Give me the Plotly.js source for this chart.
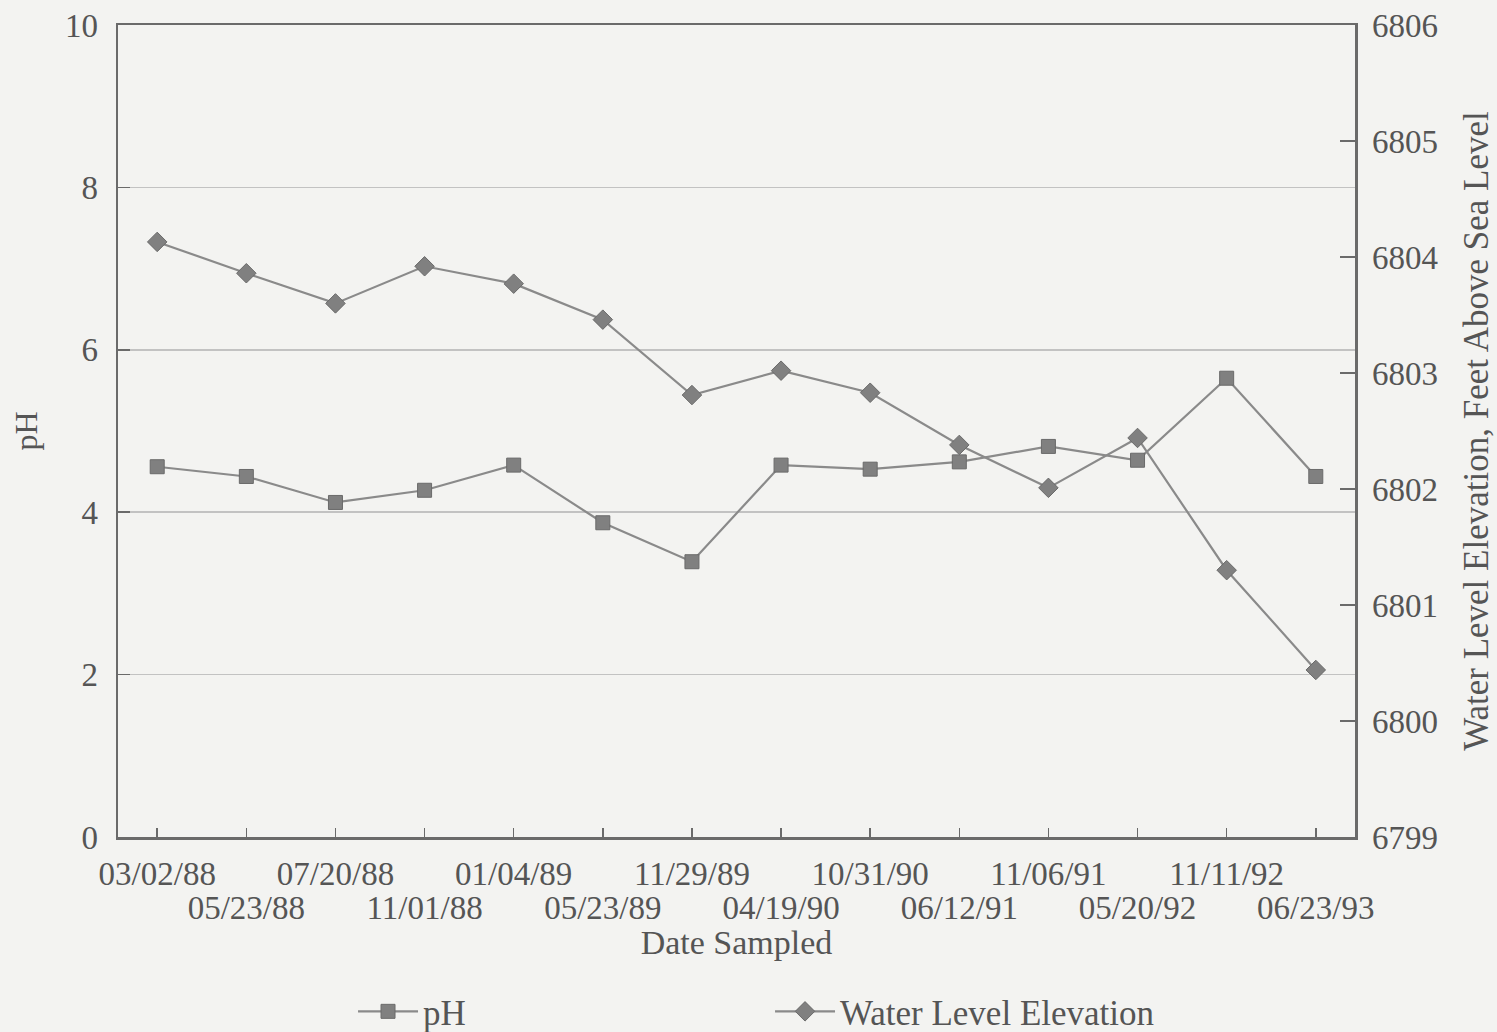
<!DOCTYPE html>
<html>
<head>
<meta charset="utf-8">
<script src="https://cdn.plot.ly/plotly-3.0.1.min.js"></script>
<style>
  html, body { margin: 0; padding: 0; background: #f3f3f1; }
  #chart { width: 1497px; height: 1032px; }
</style>
</head>
<body>
<div id="chart"></div>
<script>
// Sampling dates (categories)
const dates = ["03/02/88", "05/23/88", "07/20/88", "11/01/88", "01/04/89", "05/23/89", "11/29/89",
               "04/19/90", "10/31/90", "06/12/91", "11/06/91", "05/20/92", "11/11/92", "06/23/93"];
// pH values (left axis)
const phValues = [4.56, 4.44, 4.12, 4.27, 4.58, 3.87, 3.39, 4.58, 4.53, 4.62, 4.81, 4.64, 5.65, 4.44];
// Water level elevation, feet above sea level (right axis)
const waterLevel = [6804.13, 6803.86, 6803.60, 6803.92, 6803.77, 6803.46, 6802.81,
                    6803.02, 6802.83, 6802.38, 6802.01, 6802.44, 6801.30, 6800.44];
// Axis ticks
const phTicks = [0, 2, 4, 6, 8, 10];
const elevTicks = [6799, 6800, 6801, 6802, 6803, 6804, 6805, 6806];

const idx = dates.map((d, i) => i);
const oddIdx = idx.filter(i => i % 2 === 1);

const FONT = '"Liberation Serif", "Times New Roman", Times, serif';
const TXT = '#555555';
const LINE = '#8a8a8a';
const AX = '#6a6a6a';
const xr = [-0.44, 13.44];

const traces = [
  {
    x: idx, y: phValues, name: 'pH', type: 'scatter', mode: 'lines+markers',
    xaxis: 'x', yaxis: 'y',
    line: { color: LINE, width: 2.2 },
    marker: { symbol: 'square', size: 14, color: '#808080', line: { color: '#6a6a6a', width: 1 } }
  },
  {
    x: idx, y: waterLevel, name: 'Water Level Elevation', type: 'scatter', mode: 'lines+markers',
    xaxis: 'x', yaxis: 'y2',
    line: { color: LINE, width: 2.2 },
    marker: { symbol: 'diamond', size: 15, color: '#808080', line: { color: '#6a6a6a', width: 1 } }
  },
  {
    x: oddIdx, y: oddIdx.map(() => null), xaxis: 'x2', yaxis: 'y',
    type: 'scatter', mode: 'markers', showlegend: false, hoverinfo: 'skip'
  }
];

const layout = {
  width: 1497, height: 1032,
  paper_bgcolor: '#f3f3f1', plot_bgcolor: '#f3f3f1',
  margin: { l: 118, r: 142, t: 25, b: 195, autoexpand: false },
  font: { family: FONT, color: TXT, size: 33 },
  showlegend: true,
  legend: {
    orientation: 'h', x: 0.19, xanchor: 'left', y: -0.215, yanchor: 'middle',
    font: { family: FONT, size: 35, color: TXT },
    entrywidth: 342, entrywidthmode: 'pixels',
    bgcolor: 'rgba(0,0,0,0)', itemwidth: 60
  },
  xaxis: {
    range: xr, tickmode: 'array', tickvals: idx, automargin: false,
    ticktext: idx.map(i => i % 2 === 0 ? dates[i] : ''),
    ticks: 'inside', ticklen: 9, tickwidth: 1.5, tickcolor: AX,
    showline: true, linecolor: AX, linewidth: 2.5, mirror: true,
    showgrid: false, zeroline: false,
    tickfont: { family: FONT, size: 33, color: TXT },
    ticklabelstandoff: 6,
    title: { text: 'Date Sampled', font: { family: FONT, size: 34, color: TXT }, standoff: 39 }
  },
  xaxis2: {
    overlaying: 'x', anchor: 'y', side: 'bottom', automargin: false,
    range: xr, tickmode: 'array', tickvals: oddIdx,
    ticktext: oddIdx.map(i => dates[i]),
    ticks: '', showline: false, showgrid: false, zeroline: false,
    tickfont: { family: FONT, size: 33, color: TXT },
    ticklabelstandoff: 48
  },
  yaxis: {
    range: [0, 10], tickmode: 'array', tickvals: phTicks, automargin: false,
    ticks: 'inside', ticklen: 12, tickwidth: 1.5, tickcolor: AX,
    showline: true, linecolor: AX, linewidth: 2.5,
    showgrid: true, gridcolor: '#c2c2c2', gridwidth: 1.5, zeroline: false,
    tickfont: { family: FONT, size: 33, color: TXT },
    ticklabelstandoff: 11,
    title: { text: 'pH', font: { family: FONT, size: 32, color: TXT }, standoff: 18 }
  },
  yaxis2: {
    overlaying: 'y', side: 'right', anchor: 'x', automargin: false,
    range: [6799, 6806], tickmode: 'array', tickvals: elevTicks,
    ticks: 'inside', ticklen: 15, tickwidth: 1.5, tickcolor: AX,
    showline: true, linecolor: AX, linewidth: 2.5,
    showgrid: false, zeroline: false,
    tickfont: { family: FONT, size: 33, color: TXT },
    ticklabelstandoff: 8,
    title: { text: 'Water Level Elevation, Feet Above Sea Level', font: { family: FONT, size: 35, color: TXT }, standoff: 27 }
  }
};

Plotly.newPlot('chart', traces, layout, { displayModeBar: false, staticPlot: true });
</script>
</body>
</html>
